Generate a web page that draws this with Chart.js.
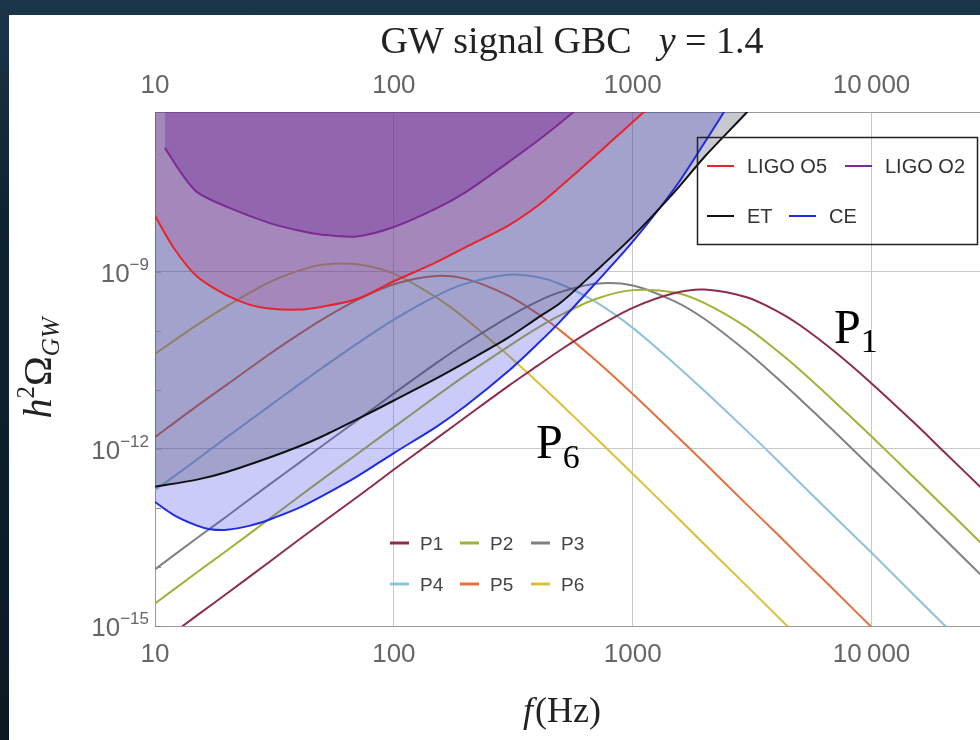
<!DOCTYPE html>
<html>
<head>
<meta charset="utf-8">
<script src="https://cdn.jsdelivr.net/npm/chart.js@4.4.1/dist/chart.umd.min.js"></script>
<style>
  html, body { margin: 0; padding: 0; width: 980px; height: 740px; overflow: hidden; }
  body { background: linear-gradient(180deg, #1b3549 0%, #0f2231 30%, #0b1924 100%); position: relative; }
  #panel { position: absolute; left: 9px; top: 15px; width: 1000px; height: 725px; background: #fff; }
  #wrap { position: absolute; left: 0; top: 0; width: 1000px; height: 740px; }
</style>
</head>
<body>
<div id="panel"></div>
<div id="wrap"><canvas id="gwChart" width="1000" height="740"></canvas></div>
<script>
// frequencies (Hz) used for the six signal spectra
const freqs = [10, 15, 20, 30, 40, 50, 70, 100, 150, 200, 300, 400, 500, 700, 1000, 1500, 2000, 3000, 4000, 5000, 7000, 10000, 15000, 20000, 30000];

// log10(h^2 Omega_GW)
const p1Log = [-15.35, -14.82, -14.45, -13.92, -13.54, -13.25, -12.82, -12.35, -11.83, -11.46, -10.94, -10.59, -10.32, -9.95, -9.61, -9.36, -9.30, -9.43, -9.66, -9.90, -10.35, -10.89, -11.55, -12.04, -12.73];
const p2Log = [-14.62, -14.09, -13.72, -13.19, -12.81, -12.52, -12.09, -11.63, -11.11, -10.75, -10.27, -9.95, -9.73, -9.46, -9.31, -9.35, -9.53, -9.94, -10.33, -10.66, -11.20, -11.79, -12.48, -12.97, -13.67];
const p3Log = [-14.04, -13.51, -13.14, -12.61, -12.24, -11.95, -11.52, -11.06, -10.55, -10.21, -9.77, -9.50, -9.34, -9.20, -9.23, -9.50, -9.80, -10.35, -10.79, -11.15, -11.71, -12.32, -13.01, -13.51, -14.21];
const p4Log = [-12.70, -12.18, -11.80, -11.28, -10.91, -10.63, -10.22, -9.81, -9.41, -9.20, -9.05, -9.09, -9.21, -9.51, -9.95, -10.56, -11.02, -11.69, -12.18, -12.57, -13.15, -13.76, -14.47, -14.97, -15.67];
const p5Log = [-11.80, -11.27, -10.91, -10.40, -10.06, -9.81, -9.48, -9.21, -9.07, -9.12, -9.40, -9.71, -10.00, -10.50, -11.07, -11.75, -12.24, -12.94, -13.43, -13.82, -14.40, -15.02, -15.73, -16.23, -16.93];
const p6Log = [-10.39, -9.90, -9.58, -9.18, -8.98, -8.88, -8.87, -9.03, -9.43, -9.80, -10.41, -10.87, -11.24, -11.81, -12.42, -13.12, -13.62, -14.32, -14.82, -15.21, -15.79, -16.41, -17.12, -17.62, -18.32];

// detector sensitivity curves
const o5Freq = [10, 12, 15, 20, 25, 30, 40, 50, 70, 100, 150, 200, 300, 400, 500, 700, 1000, 1300];
const o5Log = [-8.05, -8.60, -9.08, -9.40, -9.56, -9.62, -9.64, -9.59, -9.46, -9.16, -8.84, -8.58, -8.22, -7.88, -7.55, -7.03, -6.46, -6.05];
const o2Freq = [11, 13, 15, 20, 30, 40, 50, 70, 100, 150, 200, 300, 400, 500, 600, 700];
const o2Log = [-6.90, -7.35, -7.65, -7.90, -8.17, -8.30, -8.37, -8.40, -8.24, -7.93, -7.65, -7.15, -6.78, -6.47, -6.20, -5.95];
const etFreq = [10, 15, 20, 30, 40, 50, 70, 100, 150, 200, 300, 400, 500, 700, 1000, 1500, 2000, 3000, 3500];
const etLog = [-12.64, -12.52, -12.39, -12.15, -11.96, -11.79, -11.50, -11.18, -10.81, -10.53, -10.12, -9.78, -9.52, -8.99, -8.40, -7.64, -7.05, -6.30, -6.00];
const ceFreq = [10, 12, 15, 17, 20, 25, 30, 40, 50, 70, 100, 150, 200, 300, 400, 500, 700, 1000, 1500, 2000, 2500];
const ceLog = [-12.90, -13.12, -13.30, -13.36, -13.37, -13.30, -13.20, -13.00, -12.80, -12.47, -12.07, -11.63, -11.27, -10.69, -10.22, -9.83, -9.19, -8.49, -7.58, -6.81, -6.19];

const xTicks = [10, 100, 1000, 10000];
const xTickLabels = ["10", "100", "1000", "10\u2009000"];
const yTicks = [1e-15, 1e-12, 1e-9];
const yTickExps = ["\u221215", "\u221212", "\u22129"];

const signalNames = ["P1", "P2", "P3", "P4", "P5", "P6"];
const signalColors = ["#8c2d4e", "#a2b13a", "#808080", "#8ec2da", "#e2713f", "#dbc03a"];
const signalLogs = [p1Log, p2Log, p3Log, p4Log, p5Log, p6Log];

const detNames = ["LIGO O5", "LIGO O2", "ET", "CE"];
const detColors = ["#e8232b", "#7e2a95", "#111111", "#1e2ce2"];
const detFills = ["rgba(170,60,140,0.25)", "rgba(110,40,150,0.35)", "rgba(50,50,85,0.27)", "rgba(70,70,235,0.28)"];
const detFreqs = [o5Freq, o2Freq, etFreq, ceFreq];
const detLogs = [o5Log, o2Log, etLog, ceLog];
const fillOrder = [7, 6, 8, 9];

const toPoints = (fs, logs) => fs.map((f, i) => ({ x: f, y: Math.pow(10, logs[i]) }));

const datasets = [];
signalNames.forEach((name, i) => {
  datasets.push({
    label: name,
    data: toPoints(freqs, signalLogs[i]),
    borderColor: signalColors[i],
    borderWidth: 2,
    pointRadius: 0,
    fill: false,
    tension: 0.3,
    order: 10
  });
});
detNames.forEach((name, i) => {
  datasets.push({
    label: name + " region",
    data: toPoints(detFreqs[i], detLogs[i]),
    borderColor: "rgba(0,0,0,0)",
    borderWidth: 0,
    backgroundColor: detFills[i],
    pointRadius: 0,
    fill: "end",
    tension: 0.3,
    order: fillOrder[i]
  });
  datasets.push({
    label: name,
    data: toPoints(detFreqs[i], detLogs[i]),
    borderColor: detColors[i],
    borderWidth: 2,
    pointRadius: 0,
    fill: false,
    tension: 0.3,
    order: 1
  });
});

function drawRich(ctx, parts, x, y, align, color) {
  let total = 0;
  parts.forEach(p => { ctx.font = p.font; p.w = ctx.measureText(p.t).width; total += p.w + (p.gap || 0); });
  let cx = align === "right" ? x - total : align === "center" ? x - total / 2 : x;
  ctx.fillStyle = color;
  ctx.textBaseline = "alphabetic";
  ctx.textAlign = "left";
  parts.forEach(p => {
    ctx.font = p.font;
    ctx.fillText(p.t, cx, y + (p.dy || 0));
    cx += p.w + (p.gap || 0);
  });
}

const decor = {
  id: "decor",
  afterDraw(chart) {
    const { ctx, chartArea: a, scales } = chart;
    ctx.save();

    // small inward ticks at every decade on the left frame
    ctx.strokeStyle = "#8a8a8a";
    ctx.lineWidth = 1;
    for (let e = -15; e <= -7; e++) {
      const py = Math.round(scales.y.getPixelForValue(Math.pow(10, e))) + 0.5;
      ctx.beginPath();
      ctx.moveTo(a.left, py);
      ctx.lineTo(a.left + 6, py);
      ctx.stroke();
    }

    // y tick labels 10^n
    yTicks.forEach((v, i) => {
      const py = scales.y.getPixelForValue(v);
      drawRich(ctx, [
        { t: "10", font: '26px "Liberation Sans"' },
        { t: yTickExps[i], font: '17px "Liberation Sans"', dy: -12 }
      ], a.left - 6, py + 10, "right", "#666");
    });

    // title
    drawRich(ctx, [
      { t: "GW signal GBC", font: '38px "Liberation Serif"', gap: 27 },
      { t: "y", font: 'italic 38px "Liberation Serif"' },
      { t: " = 1.4", font: '38px "Liberation Serif"' }
    ], 572, 53, "center", "#222");

    // x axis title
    drawRich(ctx, [
      { t: "f", font: 'italic 36px "Liberation Serif"', gap: 2 },
      { t: "(Hz)", font: '36px "Liberation Serif"' }
    ], 562, 722, "center", "#222");

    // y axis title, rotated
    ctx.save();
    ctx.translate(51, 368);
    ctx.rotate(-Math.PI / 2);
    drawRich(ctx, [
      { t: "h", font: 'italic 40px "Liberation Serif"' },
      { t: "2", font: '25px "Liberation Serif"', dy: -17 },
      { t: "\u03A9", font: '40px "Liberation Serif"' },
      { t: "GW", font: 'italic 25px "Liberation Serif"', dy: 8 }
    ], 0, 0, "center", "#222");
    ctx.restore();

    // curve annotations
    drawRich(ctx, [
      { t: "P", font: '48px "Liberation Serif"' },
      { t: "1", font: '34px "Liberation Serif"', dy: 9 }
    ], 834, 343, "left", "#000");
    drawRich(ctx, [
      { t: "P", font: '48px "Liberation Serif"' },
      { t: "6", font: '34px "Liberation Serif"', dy: 10 }
    ], 536, 458, "left", "#000");

    // detector legend (framed)
    ctx.strokeStyle = "#222";
    ctx.lineWidth = 1.5;
    ctx.strokeRect(697.5, 137.5, 280, 107);
    const detLegend = [[0, 707, 166], [1, 845, 166], [2, 707, 216], [3, 789, 216]];
    detLegend.forEach(([i, lx, ly]) => {
      ctx.strokeStyle = detColors[i];
      ctx.lineWidth = 2;
      ctx.beginPath();
      ctx.moveTo(lx, ly);
      ctx.lineTo(lx + 27, ly);
      ctx.stroke();
      drawRich(ctx, [{ t: detNames[i], font: '20px "Liberation Sans"' }], lx + 40, ly + 7, "left", "#333");
    });

    // signal legend (no frame)
    signalNames.forEach((name, i) => {
      const lx = [390, 460, 531][i % 3];
      const ly = i < 3 ? 543 : 584;
      ctx.strokeStyle = signalColors[i];
      ctx.lineWidth = 3;
      ctx.beginPath();
      ctx.moveTo(lx, ly);
      ctx.lineTo(lx + 19, ly);
      ctx.stroke();
      drawRich(ctx, [{ t: name, font: '19px "Liberation Sans"' }], lx + 30, ly + 7, "left", "#444");
    });

    ctx.restore();
  }
};

new Chart(document.getElementById("gwChart"), {
  type: "line",
  data: { datasets: datasets },
  options: {
    responsive: false,
    animation: false,
    events: [],
    layout: { padding: { top: 56, right: 9, left: 0, bottom: 0 } },
    plugins: {
      legend: { display: false },
      tooltip: { enabled: false },
      filler: { drawTime: "beforeDatasetDraw", propagate: false }
    },
    scales: {
      x: {
        type: "logarithmic",
        position: "bottom",
        min: 10,
        max: 31623,
        afterBuildTicks: s => { s.ticks = xTicks.map(v => ({ value: v })); },
        afterFit: s => { s.height = 114; },
        ticks: {
          callback: (v, i) => xTickLabels[i],
          font: { family: "Liberation Sans", size: 26 },
          color: "#666",
          padding: 13,
          maxRotation: 0,
          autoSkip: false
        },
        grid: { color: "#c9c9c9", drawTicks: false },
        border: { color: "#9a9a9a" }
      },
      x2: {
        type: "logarithmic",
        axis: "x",
        position: "top",
        min: 10,
        max: 31623,
        afterBuildTicks: s => { s.ticks = xTicks.map(v => ({ value: v })); },
        afterFit: s => { s.height = 56; },
        ticks: {
          callback: (v, i) => xTickLabels[i],
          font: { family: "Liberation Sans", size: 26 },
          color: "#666",
          padding: 11,
          maxRotation: 0,
          autoSkip: false
        },
        grid: { display: false, drawTicks: false },
        border: { display: true, color: "#9a9a9a" }
      },
      y: {
        type: "logarithmic",
        min: 1e-15,
        max: 5.1e-7,
        afterBuildTicks: s => { s.ticks = yTicks.map(v => ({ value: v })); },
        afterFit: s => { s.width = 155; },
        ticks: { display: false },
        grid: { color: "#c9c9c9", drawTicks: false },
        border: { color: "#9a9a9a" }
      }
    }
  },
  plugins: [decor]
});
</script>
</body>
</html>
